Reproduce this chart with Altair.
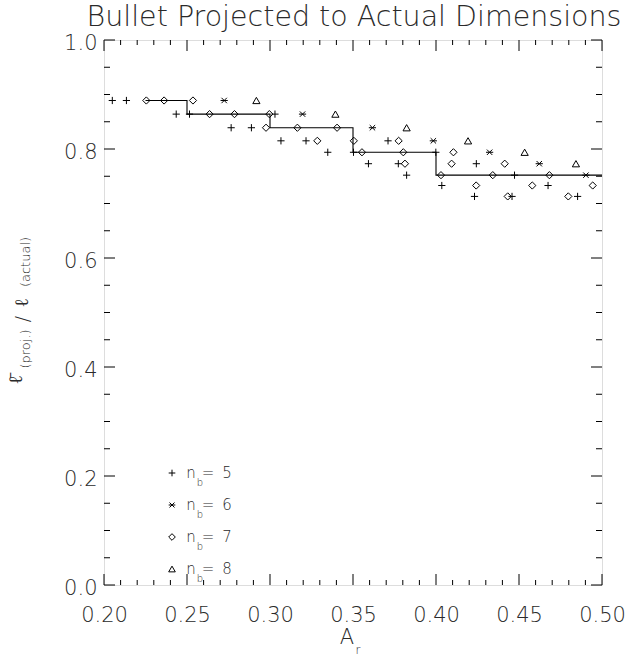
import altair as alt
import pandas as pd

# ---------------- data ----------------
plus_x = [0.205, 0.2135, 0.2435, 0.2515, 0.2766, 0.2888, 0.303, 0.3066, 0.3217,
          0.3348, 0.3503, 0.3593, 0.3711, 0.3773, 0.3823, 0.3999, 0.4035, 0.4243,
          0.4232, 0.4473, 0.4458, 0.4675, 0.4853]
plus_y = [0.889, 0.889, 0.864, 0.864, 0.839, 0.839, 0.864, 0.815, 0.815,
          0.794, 0.794, 0.773, 0.815, 0.773, 0.752, 0.794, 0.733, 0.773,
          0.713, 0.752, 0.713, 0.733, 0.713]

ast_x = [0.2724, 0.3196, 0.3617, 0.3984, 0.4323, 0.4622, 0.4903]
ast_y = [0.889, 0.864, 0.839, 0.815, 0.794, 0.773, 0.752]

dia_x = [0.2255, 0.2362, 0.2536, 0.2636, 0.2786, 0.2976, 0.2996, 0.3165, 0.3285,
         0.3404, 0.3505, 0.3554, 0.3775, 0.3803, 0.3813, 0.403, 0.4105, 0.4094,
         0.4242, 0.4342, 0.4414, 0.4432, 0.458, 0.4683, 0.4797, 0.4944]
dia_y = [0.889, 0.889, 0.889, 0.864, 0.864, 0.839, 0.864, 0.839, 0.815,
         0.839, 0.815, 0.794, 0.815, 0.794, 0.773, 0.752, 0.794, 0.773,
         0.733, 0.752, 0.773, 0.713, 0.733, 0.752, 0.713, 0.733]

tri_x = [0.2918, 0.3394, 0.3823, 0.4193, 0.4534, 0.4843]
tri_y = [0.889, 0.864, 0.839, 0.815, 0.794, 0.773]

step_x = [0.225, 0.25, 0.30, 0.35, 0.40, 0.50]
step_y = [0.889, 0.864, 0.839, 0.794, 0.752, 0.752]

nb_labels = ["5", "6", "7", "8"]

x_major = [0.20, 0.25, 0.30, 0.35, 0.40, 0.45, 0.50]
x_minor = [0.21, 0.22, 0.23, 0.24, 0.26, 0.27, 0.28, 0.29, 0.31, 0.32, 0.33, 0.34,
           0.36, 0.37, 0.38, 0.39, 0.41, 0.42, 0.43, 0.44, 0.46, 0.47, 0.48, 0.49]
y_major = [0.0, 0.2, 0.4, 0.6, 0.8, 1.0]
y_minor = [0.05, 0.1, 0.15, 0.25, 0.3, 0.35, 0.45, 0.5, 0.55, 0.65, 0.7, 0.75,
           0.85, 0.9, 0.95]

title_text = "Bullet Projected to Actual Dimensions"

# ---------------- build tables ----------------
pts = pd.concat([
    pd.DataFrame({"x": plus_x, "y": plus_y, "nb": "5"}),
    pd.DataFrame({"x": ast_x, "y": ast_y, "nb": "6"}),
    pd.DataFrame({"x": dia_x, "y": dia_y, "nb": "7"}),
    pd.DataFrame({"x": tri_x, "y": tri_y, "nb": "8"}),
], ignore_index=True)
step_df = pd.DataFrame({"x": step_x, "y": step_y})
leg_df = pd.DataFrame({"nb": nb_labels, "i": list(range(len(nb_labels)))})

W, H = 498, 545
FONT = "DejaVu Sans"
TXT = "#2a2a2a"

xs = alt.Scale(domain=[0.2, 0.5], nice=False, zero=False)
ys = alt.Scale(domain=[0.0, 1.0], nice=False, zero=False)

plus_path = "M-1,0L1,0M0,-1L0,1"
ast_path = "M-1,0L1,0M-0.75,-0.75L0.75,0.75M-0.75,0.75L0.75,-0.75"
shape_scale = alt.Scale(domain=nb_labels,
                        range=[plus_path, ast_path, "diamond", "triangle-up"])

x_axis = alt.Axis(values=x_major, format=".2f", title=None, ticks=False, tickSize=0,
                  domain=False, grid=False, labelFontSize=21, labelPadding=19,
                  labelFlush=False, labelFont=FONT, labelColor=TXT,
                  labelFontWeight=300)
y_axis = alt.Axis(values=y_major, format=".1f", title=None, ticks=False, tickSize=0,
                  domain=False, grid=False, labelFontSize=21, labelPadding=7,
                  labelFlush=False, labelOffset=3, labelFont=FONT, labelColor=TXT,
                  labelFontWeight=300)


def X(field):
    return alt.X(field, type="quantitative", scale=xs, axis=x_axis)


def Y(field):
    return alt.Y(field, type="quantitative", scale=ys, axis=y_axis)


points = alt.Chart(pts).mark_point(filled=False, color="black", strokeWidth=1,
                                   opacity=1).encode(
    x=X("x"), y=Y("y"),
    shape=alt.Shape("nb:N", scale=shape_scale, legend=None),
    size=alt.value(52),
)

step = alt.Chart(step_df).mark_line(interpolate="step-after", color="black",
                                    strokeWidth=1.1).encode(x=X("x"), y=Y("y"))


def xticks(vals, L):
    d = pd.DataFrame({"t": vals})
    b = alt.Chart(d).mark_rule(color="black", strokeWidth=1).encode(
        x=X("t"), y=alt.value(H), y2=alt.value(H - L))
    t = alt.Chart(d).mark_rule(color="black", strokeWidth=1).encode(
        x=X("t"), y=alt.value(0), y2=alt.value(L))
    return [b, t]


def yticks(vals, L):
    d = pd.DataFrame({"t": vals})
    l = alt.Chart(d).mark_rule(color="black", strokeWidth=1).encode(
        y=Y("t"), x=alt.value(0), x2=alt.value(L))
    r = alt.Chart(d).mark_rule(color="black", strokeWidth=1).encode(
        y=Y("t"), x=alt.value(W), x2=alt.value(W - L))
    return [l, r]


ticks = xticks(x_major, 11) + xticks(x_minor, 5) + yticks(y_major, 11) + yticks(y_minor, 6)

# ---------------- legend (inside plot, lower left) ----------------
leg = alt.Chart(leg_df).transform_calculate(
    py="(112 - 32 * datum.i) / 545", pb="(102 - 32 * datum.i) / 545")
leg_sym = leg.mark_point(filled=False, color="black", strokeWidth=1, opacity=1).encode(
    x=alt.value(68), y=Y("py"),
    shape=alt.Shape("nb:N", scale=shape_scale, legend=None), size=alt.value(44))
leg_n = leg.mark_text(font=FONT, fontSize=15, color=TXT, fontWeight=300).encode(
    x=alt.value(87), y=Y("py"), text=alt.value("n"))
leg_b = leg.mark_text(font=FONT, fontSize=10, color=TXT, fontWeight=300).encode(
    x=alt.value(96), y=Y("pb"), text=alt.value("b"))
leg_eq = leg.mark_text(font=FONT, fontSize=15, color=TXT, fontWeight=300).encode(
    x=alt.value(104), y=Y("py"), text=alt.value("="))
leg_num = leg.mark_text(font=FONT, fontSize=15, color=TXT, fontWeight=300).encode(
    x=alt.value(123), y=Y("py"), text="nb:N")


# ---------------- titles as text ----------------
def label(txt, x, y, size, angle=0, italic=False):
    return alt.Chart(alt.Data(values=[{"t": txt}])).mark_text(
        font=FONT, fontSize=size, color=TXT, fontWeight=300, angle=angle,
        fontStyle="italic" if italic else "normal", align="center",
        baseline="middle").encode(x=alt.value(x), y=alt.value(y), text="t:N")


titles = [
    label(title_text, 250, -23, 28.5),
    label("\u2113\u0304", -88, 340, 19, 270),
    label("(proj.)", -78, 309, 13, 270),
    label("/", -81, 279, 19, 270),
    label("\u2113", -82, 263, 19, 270),
    label("(actual)", -78, 222, 13, 270),
    label("A", 243, 598, 21),
    label("r", 254, 610, 12),
]

chart = alt.layer(points, step, *ticks, leg_sym, leg_n, leg_b, leg_eq, leg_num,
                  *titles).properties(
    width=W, height=H,
    autosize=alt.AutoSizeParams(type="none"),
    padding={"left": 104, "top": 40, "right": 35, "bottom": 75},
).configure_view(stroke="black", strokeWidth=1.2).configure(background="white")

chart.save("out.html", embed_options={"renderer": "svg", "actions": False})
